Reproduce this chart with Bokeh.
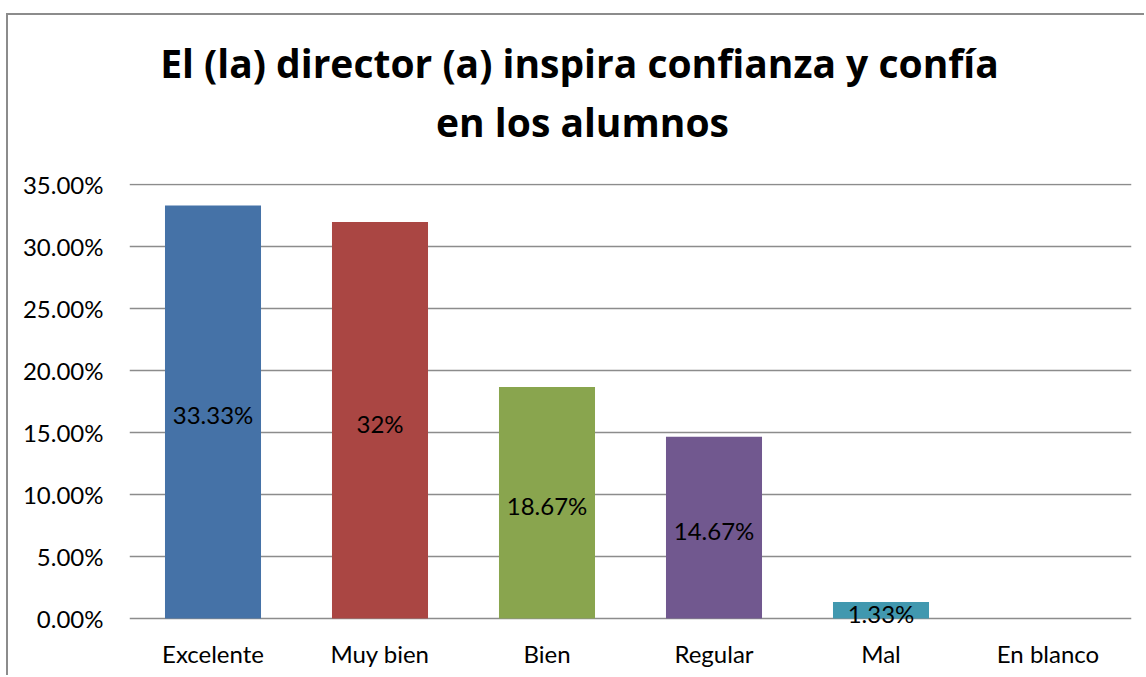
from bokeh.plotting import figure
from bokeh.layouts import column
from bokeh.models import ColumnDataSource, Label, FixedTicker, NumeralTickFormatter, Range1d
from bokeh.core.properties import value
from bokeh.embed import file_html
from bokeh.resources import INLINE

categories = ["Excelente", "Muy bien", "Bien", "Regular", "Mal", "En blanco"]
values = [0.3333, 0.32, 0.1867, 0.1467, 0.0133, 0.0]
value_labels = ["33.33%", "32%", "18.67%", "14.67%", "1.33%", ""]
colors = ["#4572A7", "#AA4643", "#89A54E", "#71588F", "#4198AF", "#4198AF"]
y_ticks = [0.0, 0.05, 0.10, 0.15, 0.20, 0.25, 0.30, 0.35]
title_lines = ["El (la) director (a) inspira confianza y confía", "en los alumnos"]

FONT = "Lato"
TFONT = "Open Sans"
W = 1136
TH = 150
ML, MR = 121, 13

# ---- title strip (frame aligned with the chart frame; x data == canvas px) ----
pt = figure(width=W, height=TH, x_range=Range1d(ML, W - MR), y_range=Range1d(0, TH),
            output_backend="svg", toolbar_location=None,
            x_axis_type=None, y_axis_type=None,
            min_border_left=ML, min_border_right=MR,
            min_border_top=0, min_border_bottom=0)
pt.outline_line_color = None
pt.xgrid.visible = False
pt.ygrid.visible = False
title_x = [571, 574]
title_y = [103, 44]
for txt, xx, yy in zip(title_lines, title_x, title_y):
    pt.add_layout(Label(x=xx, y=yy, text=txt,
                        text_align="center", text_baseline="alphabetic",
                        text_font=TFONT, text_font_style="bold",
                        text_font_size="39px", text_color="black"))

# ---- chart ----
src = ColumnDataSource(dict(
    x=categories, top=values, mid=[v / 2 for v in values],
    lab=value_labels, color=colors))

p = figure(x_range=categories, y_range=(-0.0065, 0.351), width=W, height=510,
           output_backend="svg", toolbar_location=None,
           min_border_left=ML, min_border_right=MR,
           min_border_top=18, min_border_bottom=49)
p.outline_line_color = None
p.background_fill_color = "white"
p.border_fill_color = "white"

p.vbar(x="x", top="top", bottom=0, width=0.575, fill_color="color",
       line_color=None, source=src)
p.text(x="x", y="mid", text="lab", source=src, text_align="center",
       text_baseline="middle", text_font=value(FONT), text_font_size="24px",
       text_color="black", y_offset=3)

p.xgrid.grid_line_color = None
p.ygrid.ticker = FixedTicker(ticks=y_ticks)
p.ygrid.grid_line_color = "#8c8c8c"
p.ygrid.grid_line_width = 1.5

p.yaxis.ticker = FixedTicker(ticks=y_ticks)
p.yaxis.formatter = NumeralTickFormatter(format="0.00%")
for ax in (p.xaxis[0], p.yaxis[0]):
    ax.major_tick_line_color = None
    ax.minor_tick_line_color = None
    ax.major_tick_out = 0
    ax.major_tick_in = 0
    ax.minor_tick_out = 0
    ax.major_label_text_font = FONT
    ax.major_label_text_font_size = "24px"
    ax.major_label_text_color = "black"
p.yaxis.axis_line_color = None
p.yaxis.major_label_standoff = 26
p.xaxis.axis_line_color = None
p.xaxis.major_label_standoff = 12

layout = column(pt, p, spacing=0)
layout.margin = (13, 0, 0, 6)
layout.styles = {"border-left": "2px solid #8c8c8c", "border-top": "2px solid #8c8c8c"}

open("out.html", "w").write(file_html(layout, INLINE))
